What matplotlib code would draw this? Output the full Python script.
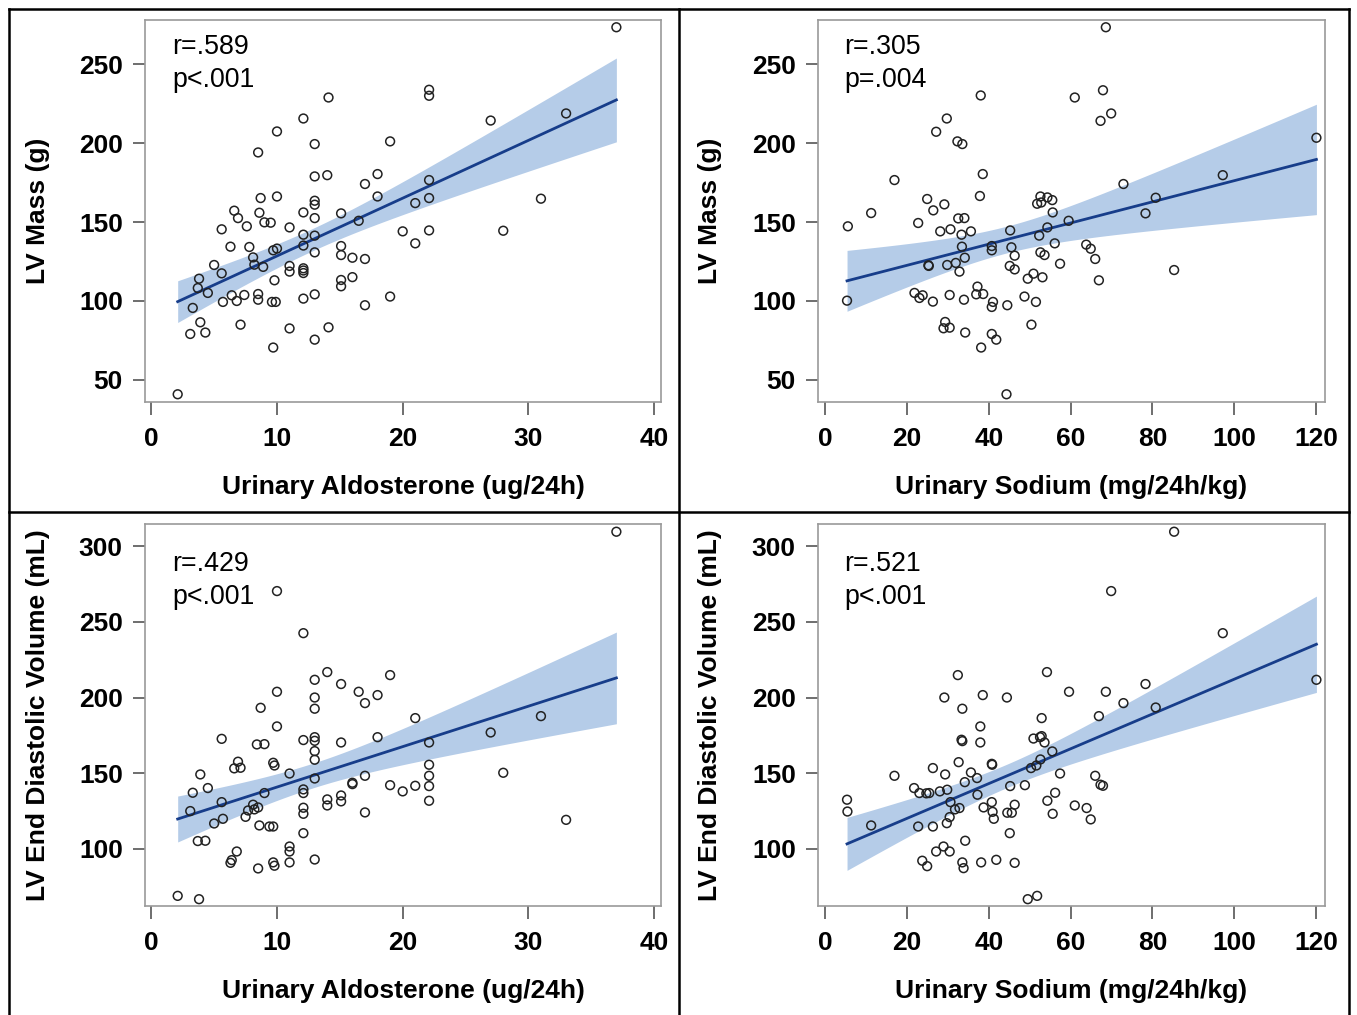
import numpy as np
import matplotlib
matplotlib.use("Agg")
import matplotlib.pyplot as plt
from matplotlib.lines import Line2D

plt.rcParams['font.family'] = ['Liberation Sans', 'DejaVu Sans']

# ---------------- data ----------------
tl_x = [14.1, 12.1, 10.0, 13.0, 19.0, 8.5, 13.0, 14.0, 18.0, 17.0, 8.7, 10.0, 18.0, 13.0, 13.0, 6.6, 6.9, 8.6, 12.1, 15.1,
        13.0, 7.6, 9.0, 9.5, 11.0, 16.5, 5.6, 12.1, 13.0, 6.3, 7.8, 15.1, 12.1, 9.7, 10.0, 8.1, 8.2, 8.9, 13.0, 15.1,
        16.0, 17.0, 5.0, 5.6, 11.0, 11.0, 12.1, 12.1, 12.1, 3.8, 3.7, 4.5, 3.3, 9.8, 15.1, 15.1, 16.0, 6.4, 6.8, 5.7,
        7.4, 8.5, 8.5, 9.6, 9.9, 12.1, 13.0, 17.0, 19.0, 3.9, 3.1, 4.3, 7.1, 11.0, 14.1, 13.0, 9.7, 2.1, 20.0, 37.0,
        22.1, 22.1, 27.0, 33.0, 22.1, 22.1, 21.0, 31.0, 22.1, 28.0, 21.0]
tl_y = [228.9, 215.6, 207.4, 199.4, 201.1, 194.1, 178.9, 179.7, 180.4, 174.1, 165.2, 166.2, 166.2, 163.5, 161.0, 157.2,
        152.5, 155.9, 156.1, 155.5, 152.5, 147.3, 149.8, 149.6, 146.6, 150.8, 145.4, 142.0, 141.4, 134.4, 134.2, 134.8,
        135.1, 132.1, 133.2, 127.6, 123.0, 121.6, 130.8, 129.1, 127.4, 126.6, 122.8, 117.5, 122.2, 118.6, 120.7, 119.3,
        117.7, 114.1, 108.2, 105.1, 95.6, 113.1, 113.3, 109.3, 115.1, 103.6, 100.0, 99.4, 103.8, 104.4, 100.8, 99.4,
        99.4, 101.5, 104.2, 97.3, 102.8, 86.5, 79.1, 80.0, 85.0, 82.6, 83.3, 75.5, 70.5, 40.9, 144.1, 273.4, 233.8,
        230.0, 214.3, 218.8, 176.6, 165.2, 162.0, 164.8, 144.7, 144.5, 136.5]

tr_x = [38.0, 29.7, 27.1, 32.3, 33.5, 61.0, 38.5, 16.9, 37.8, 24.9, 29.1, 26.4, 11.2, 52.6, 54.3, 55.5, 51.8, 52.8, 55.6,
        59.5, 5.5, 22.7, 32.5, 34.0, 28.1, 30.6, 33.3, 35.6, 45.2, 54.3, 52.3, 33.4, 34.1, 40.7, 40.7, 45.5, 46.3, 56.1,
        52.6, 53.6, 57.4, 25.2, 25.3, 29.8, 31.9, 32.8, 45.1, 46.3, 49.5, 50.9, 53.1, 5.3, 21.8, 23.0, 23.8, 26.3, 30.4,
        33.9, 37.2, 36.9, 38.6, 41.0, 40.7, 44.5, 48.7, 51.5, 29.3, 28.9, 30.4, 34.2, 50.4, 40.7, 41.8, 38.1, 44.3, 68.6,
        67.9, 69.9, 67.3, 120.1, 97.2, 72.9, 80.8, 78.3, 63.8, 64.9, 66.0, 66.9, 85.3]
tr_y = [230.2, 215.6, 207.2, 201.1, 199.4, 228.9, 180.4, 176.6, 166.5, 164.6, 161.2, 157.4, 155.7, 166.2, 165.6, 163.9,
        161.6, 162.4, 156.1, 150.8, 147.3, 149.4, 152.3, 152.5, 144.1, 145.4, 142.0, 144.1, 144.7, 146.6, 141.4, 134.4,
        127.4, 134.8, 132.1, 134.0, 128.7, 136.5, 130.8, 129.1, 123.6, 122.6, 122.2, 122.8, 124.1, 118.6, 122.2, 120.0,
        114.1, 117.3, 115.0, 100.2, 105.1, 101.9, 103.6, 99.6, 103.8, 100.8, 109.1, 104.2, 104.4, 99.4, 96.2, 97.3,
        102.8, 99.4, 86.7, 82.7, 83.1, 80.0, 85.0, 79.1, 75.5, 70.5, 40.9, 273.4, 233.5, 218.8, 214.1, 203.4, 179.7,
        174.1, 165.4, 155.5, 135.7, 133.1, 126.6, 113.1, 119.6]

bl_x = [10.0, 12.1, 14.0, 13.0, 15.1, 19.0, 16.5, 18.0, 17.0, 10.0, 13.0, 13.0, 8.7, 10.0, 5.6, 8.4, 9.0, 12.1, 13.0,
        13.0, 15.1, 18.0, 13.0, 13.0, 6.9, 6.6, 7.1, 9.7, 9.8, 11.0, 3.9, 13.0, 17.0, 16.0, 16.0, 19.0, 20.0, 4.5, 3.3,
        5.6, 9.0, 12.1, 12.1, 14.0, 14.0, 15.1, 15.1, 3.1, 8.1, 7.7, 8.2, 8.5, 7.5, 12.1, 12.1, 17.0, 5.0, 5.7, 8.6, 9.4,
        9.7, 12.1, 3.7, 4.3, 11.0, 11.0, 6.8, 6.3, 6.4, 8.5, 9.7, 9.8, 11.0, 13.0, 2.1, 3.8, 37.0, 21.0, 22.1, 27.0,
        31.0, 22.1, 22.1, 22.1, 21.0, 22.1, 28.0, 33.0]
bl_y = [270.3, 242.5, 216.8, 211.7, 208.9, 214.8, 203.8, 201.6, 196.3, 203.8, 200.0, 192.6, 193.2, 180.9, 172.7, 169.0,
        169.2, 171.9, 173.8, 171.4, 170.3, 173.8, 164.6, 158.9, 157.6, 153.2, 153.6, 156.9, 155.1, 149.8, 149.2, 146.5,
        148.3, 143.7, 142.8, 142.1, 138.0, 140.2, 137.1, 130.9, 136.9, 139.3, 136.9, 132.7, 128.7, 135.3, 131.4, 125.0,
        129.2, 125.4, 126.1, 127.4, 121.2, 127.2, 123.2, 124.1, 116.8, 119.9, 115.5, 114.8, 114.8, 110.4, 105.2, 105.4,
        101.6, 98.3, 98.3, 90.8, 92.6, 87.1, 91.1, 88.9, 91.1, 93.0, 69.0, 66.8, 309.5, 186.4, 170.3, 176.9, 187.7,
        155.6, 148.3, 141.5, 141.7, 131.8, 150.3, 119.2]

br_x = [32.4, 54.2, 29.1, 38.5, 44.4, 59.6, 33.5, 52.9, 37.9, 33.3, 33.5, 37.9, 50.9, 52.5, 52.9, 53.6, 55.5, 32.6, 26.3,
        29.3, 16.9, 40.7, 40.8, 35.6, 37.1, 34.1, 50.3, 51.6, 52.6, 57.4, 21.7, 23.0, 24.7, 25.4, 28.0, 29.8, 45.2, 48.8,
        37.2, 30.6, 31.7, 32.8, 30.4, 29.7, 38.7, 40.7, 40.9, 41.2, 44.5, 45.6, 46.3, 54.3, 56.2, 55.6, 61.0, 5.3, 5.4,
        11.2, 22.7, 26.3, 45.1, 34.2, 27.1, 28.9, 30.4, 23.7, 24.9, 33.5, 33.8, 38.1, 41.8, 46.3, 49.5, 51.8, 85.3, 69.9,
        97.2, 120.1, 78.3, 68.6, 72.9, 80.8, 66.9, 66.0, 67.3, 67.9, 63.9, 64.9]
br_y = [214.8, 216.8, 200.0, 201.6, 200.0, 203.8, 192.6, 186.4, 180.9, 172.1, 171.2, 170.3, 172.9, 173.8, 174.5, 170.3,
        164.4, 157.3, 153.4, 149.2, 148.3, 156.2, 155.6, 150.5, 146.8, 144.1, 153.4, 155.1, 159.1, 149.8, 140.2, 136.9,
        136.7, 136.9, 138.0, 139.1, 141.5, 142.1, 135.8, 130.9, 126.1, 127.0, 121.0, 117.0, 127.4, 130.9, 124.5, 119.9,
        123.9, 123.9, 129.2, 131.8, 137.1, 123.2, 128.7, 132.5, 124.7, 115.5, 114.8, 114.8, 110.4, 105.4, 98.3, 101.6,
        98.3, 92.2, 88.6, 91.1, 87.3, 91.1, 92.8, 90.8, 66.8, 69.0, 309.5, 270.3, 242.5, 211.7, 208.9, 203.8, 196.3,
        193.4, 187.7, 148.3, 142.4, 141.7, 127.0, 119.5]

stats_text = [["r=.589", "p<.001"], ["r=.305", "p=.004"], ["r=.429", "p<.001"], ["r=.521", "p<.001"]]
x_labels = ["Urinary Aldosterone (ug/24h)", "Urinary Sodium (mg/24h/kg)"]
y_labels = ["LV Mass (g)", "LV End Diastolic Volume (mL)"]
x_ticks_aldo = [0, 10, 20, 30, 40]
x_ticks_na = [0, 20, 40, 60, 80, 100, 120]
y_ticks_mass = [50, 100, 150, 200, 250]
y_ticks_edv = [100, 150, 200, 250, 300]

# ---------------- figure ----------------
W, H = 1357, 1015
fig = plt.figure(figsize=(W / 100, H / 100), dpi=100)


def px_axes(l, t, r, b):
    return fig.add_axes([l / W, 1 - b / H, (r - l) / W, (b - t) / H])


LINE_C = '#173d8a'
BAND_C = '#b5cce8'


def panel(ax, x, y, xt, yt, xlim, ylim, xlabel, ylabel, stats, ylab_x, stat_y):
    x = np.asarray(x, float)
    y = np.asarray(y, float)
    n = len(x)
    b1, b0 = np.polyfit(x, y, 1)
    xs = np.linspace(x.min(), x.max(), 200)
    yhat = b0 + b1 * xs
    resid = y - (b0 + b1 * x)
    s = np.sqrt(np.sum(resid ** 2) / (n - 2))
    sxx = np.sum((x - x.mean()) ** 2)
    se = s * np.sqrt(1.0 / n + (xs - x.mean()) ** 2 / sxx)
    tval = 1.987
    ax.fill_between(xs, yhat - tval * se, yhat + tval * se, color=BAND_C, lw=0, zorder=1)
    ax.plot(xs, yhat, color=LINE_C, lw=2, zorder=2)
    ax.scatter(x, y, s=40, facecolors='none', edgecolors='#222222', linewidths=1.1, zorder=3)
    ax.set_xlim(*xlim)
    ax.set_ylim(*ylim)
    ax.set_xticks(xt)
    ax.set_yticks(yt)
    for sp in ax.spines.values():
        sp.set_color('#9a9a9a')
        sp.set_linewidth(1.2)
    ax.tick_params(direction='out', length=9, width=1.2, color='#555555', labelsize=19)
    ax.tick_params(axis='x', pad=9)
    ax.tick_params(axis='y', pad=7)
    for lab in ax.get_xticklabels() + ax.get_yticklabels():
        lab.set_fontweight('bold')
    ax.set_xlabel(xlabel, fontsize=19, fontweight='bold')
    ax.xaxis.set_label_coords(0.5, -0.191)
    ax.set_ylabel(ylabel, fontsize=19, fontweight='bold')
    ax.yaxis.set_label_coords(ylab_x, 0.5)
    ax.text(0.052, stat_y, stats[0], transform=ax.transAxes, fontsize=19.3, va='center', ha='left')
    ax.text(0.052, stat_y - 0.087, stats[1], transform=ax.transAxes, fontsize=19.3, va='center', ha='left')


ax1 = px_axes(145, 20, 661, 402)
ax2 = px_axes(818, 20, 1325, 402)
ax3 = px_axes(145, 524, 661, 906)
ax4 = px_axes(818, 524, 1325, 906)

panel(ax1, tl_x, tl_y, x_ticks_aldo, y_ticks_mass, (-0.5, 40.55), (36, 278),
      x_labels[0], y_labels[0], stats_text[0], -0.185, 0.929)
panel(ax2, tr_x, tr_y, x_ticks_na, y_ticks_mass, (-1.8, 122.2), (36, 278),
      x_labels[1], y_labels[0], stats_text[1], -0.19, 0.929)
panel(ax3, bl_x, bl_y, x_ticks_aldo, y_ticks_edv, (-0.5, 40.55), (62.3, 314.6),
      x_labels[0], y_labels[1], stats_text[2], -0.185, 0.895)
panel(ax4, br_x, br_y, x_ticks_na, y_ticks_edv, (-1.8, 122.2), (62.3, 314.6),
      x_labels[1], y_labels[1], stats_text[3], -0.19, 0.895)

# outer frame / panel separators
def fline(x0, y0, x1, y1):
    fig.add_artist(Line2D([x0 / W, x1 / W], [1 - y0 / H, 1 - y1 / H], color='black', lw=1.8))

fline(8.5, 8.5, 1349, 8.5)
fline(8.5, 8.5, 8.5, 1015)
fline(1349, 8.5, 1349, 1015)
fline(679.5, 8.5, 679.5, 1015)
fline(8.5, 512, 1349, 512)

fig.savefig('out.png', dpi=100)
